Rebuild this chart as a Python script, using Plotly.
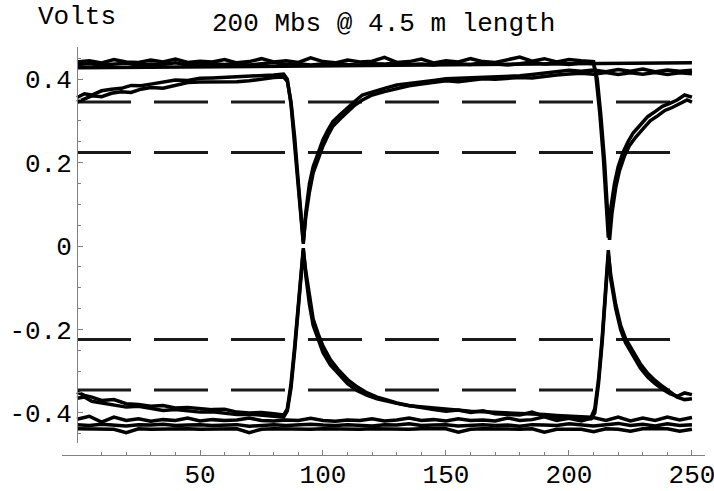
import plotly.graph_objects as go

# ---------------- data ----------------
grid5_0_210 = list(range(0, 211, 5))
grid5_0_250 = list(range(0, 251, 5))

hi_n1_x = grid5_0_210 + [211, 212.5, 214, 215, 216, 217, 218.5, 220, 222, 224, 226, 229, 232, 235, 238, 241, 244, 247, 250]
hi_n1_y = [0.441, 0.444, 0.439, 0.447, 0.441, 0.440, 0.446, 0.441, 0.448, 0.440,
           0.443, 0.441, 0.447, 0.439, 0.442, 0.449, 0.441, 0.444, 0.440, 0.451,
           0.442, 0.439, 0.446, 0.441, 0.443, 0.452, 0.440, 0.442, 0.448, 0.439,
           0.444, 0.441, 0.449, 0.442, 0.440, 0.446, 0.453, 0.443, 0.449, 0.441,
           0.447, 0.444, 0.442,
           0.405, 0.32, 0.21, 0.11, 0.02, 0.09, 0.15, 0.19, 0.225, 0.25, 0.27, 0.29,
           0.31, 0.322, 0.335, 0.342, 0.35, 0.362, 0.357]

hi_n2_x = grid5_0_210 + [211.5, 213, 214.5, 215.5, 216.5, 217.5, 219, 220.5, 222.5, 224.5, 227, 230, 233, 236, 239, 242, 245, 248, 250]
hi_n2_y = [0.435, 0.437, 0.434, 0.436, 0.438, 0.434, 0.436, 0.435, 0.439, 0.434,
           0.436, 0.437, 0.435, 0.438, 0.434, 0.436, 0.440, 0.435, 0.437, 0.434,
           0.436, 0.439, 0.435, 0.434, 0.437, 0.436, 0.440, 0.435, 0.436, 0.434,
           0.438, 0.436, 0.435, 0.439, 0.436, 0.434, 0.437, 0.441, 0.436, 0.438,
           0.435, 0.439, 0.437,
           0.40, 0.31, 0.20, 0.10, 0.015, 0.08, 0.14, 0.18, 0.215, 0.24, 0.26, 0.28,
           0.30, 0.312, 0.325, 0.332, 0.34, 0.35, 0.345]

hi_t_x = [0, 50, 100, 150, 200, 250]
hi_t_y = [0.427, 0.429, 0.431, 0.433, 0.436, 0.439]

r_x = [0, 3, 6, 10, 14, 18, 22, 26, 30, 35, 40, 45, 50, 55, 60, 65, 70, 75, 80, 84,
       85.5, 87, 88.5, 90, 91.5, 92,
       93, 94.5, 96, 98, 100, 102, 104, 107, 110, 113, 116, 120, 125, 130, 135, 140,
       145, 150, 155, 160, 165, 170, 175, 180, 185, 190, 195, 200, 205, 210, 215, 220,
       225, 230, 235, 240, 245, 250]
r1_y = [0.356, 0.365, 0.362, 0.372, 0.376, 0.378, 0.385, 0.384, 0.388, 0.392,
        0.398, 0.397, 0.402, 0.403, 0.404, 0.405, 0.407, 0.408, 0.410, 0.412,
        0.40, 0.34, 0.25, 0.14, 0.04, 0.005,
        0.08, 0.15, 0.19, 0.225, 0.255, 0.278, 0.298, 0.315, 0.332, 0.347,
        0.362, 0.37, 0.378, 0.386, 0.389, 0.394, 0.397, 0.401, 0.402, 0.404,
        0.405, 0.406, 0.405, 0.408, 0.411, 0.414, 0.418, 0.421, 0.419, 0.422,
        0.418, 0.423, 0.419, 0.424, 0.418, 0.422, 0.419, 0.421]
r2_y = [0.345, 0.352, 0.360, 0.358, 0.366, 0.370, 0.368, 0.376, 0.380, 0.378,
        0.386, 0.392, 0.393, 0.393, 0.394, 0.394, 0.396, 0.400, 0.404, 0.405,
        0.395, 0.345, 0.26, 0.15, 0.05, 0.01,
        0.07, 0.13, 0.175, 0.21, 0.24, 0.265, 0.287, 0.305, 0.322, 0.338,
        0.35, 0.362, 0.37, 0.378, 0.384, 0.388, 0.392, 0.396, 0.394, 0.398,
        0.401, 0.400, 0.402, 0.404, 0.403, 0.407, 0.410, 0.412, 0.414, 0.412,
        0.416, 0.411, 0.415, 0.412, 0.416, 0.411, 0.415, 0.413]

l_x = [0, 3, 6, 10, 15, 20, 25, 30, 35, 40, 45, 50, 55, 60, 65, 70, 75, 80, 84,
       85.5, 87, 88.5, 90, 91.5, 92,
       93, 94.5, 96, 98, 100, 103, 106, 110, 114, 118, 122, 126, 130, 135, 140, 145,
       150, 155, 160, 165, 170, 175, 180, 185, 190, 195, 200, 205, 209,
       210.5, 212, 213.5, 215, 216,
       217, 219, 221, 223, 226, 229, 232, 235, 238, 241, 244, 247, 250]
l1_y = [-0.350, -0.358, -0.362, -0.370, -0.368, -0.378, -0.380, -0.384, -0.382, -0.388,
        -0.387, -0.390, -0.392, -0.391, -0.398, -0.400, -0.399, -0.402, -0.405,
        -0.39, -0.33, -0.24, -0.13, -0.035, -0.005,
        -0.07, -0.14, -0.19, -0.225, -0.255, -0.285, -0.305, -0.33, -0.347, -0.358,
        -0.366, -0.372, -0.377, -0.383, -0.386, -0.389, -0.392, -0.394, -0.396, -0.397,
        -0.398, -0.399, -0.400, -0.401, -0.404, -0.406, -0.408, -0.409, -0.410,
        -0.39, -0.32, -0.22, -0.10, -0.01,
        -0.08, -0.15, -0.20, -0.232, -0.262, -0.292, -0.314, -0.33, -0.343, -0.354,
        -0.36, -0.352, -0.356]
l2_y = [-0.365, -0.362, -0.372, -0.376, -0.380, -0.386, -0.384, -0.390, -0.394, -0.392,
        -0.396, -0.398, -0.397, -0.400, -0.404, -0.403, -0.406, -0.408, -0.410,
        -0.395, -0.34, -0.25, -0.14, -0.045, -0.01,
        -0.06, -0.125, -0.175, -0.21, -0.24, -0.272, -0.295, -0.32, -0.338, -0.352,
        -0.362, -0.369, -0.376, -0.382, -0.388, -0.392, -0.396, -0.393, -0.399, -0.395,
        -0.402, -0.403, -0.405, -0.398, -0.408, -0.411, -0.412, -0.414, -0.414,
        -0.40, -0.33, -0.23, -0.11, -0.02,
        -0.07, -0.14, -0.19, -0.222, -0.252, -0.282, -0.305, -0.322, -0.336, -0.348,
        -0.362, -0.368, -0.366]

lf1_y = [-0.415, -0.408, -0.422, -0.410, -0.418, -0.414, -0.420, -0.416, -0.418, -0.412,
         -0.419, -0.416, -0.418, -0.417, -0.412, -0.418, -0.419, -0.417, -0.418, -0.413,
         -0.418, -0.420, -0.417, -0.418, -0.414, -0.419, -0.417, -0.412, -0.418, -0.416,
         -0.419, -0.414, -0.418, -0.417, -0.419, -0.412, -0.418, -0.416, -0.409, -0.418,
         -0.413, -0.419, -0.411, -0.418, -0.410, -0.419, -0.412, -0.418, -0.410, -0.417, -0.411]
lf2_y = [-0.428, -0.430, -0.427, -0.429, -0.431, -0.428, -0.429, -0.427, -0.430, -0.429,
         -0.428, -0.430, -0.429, -0.428, -0.432, -0.429, -0.428, -0.430, -0.429, -0.427,
         -0.429, -0.430, -0.428, -0.429, -0.431, -0.428, -0.429, -0.426, -0.430, -0.429,
         -0.428, -0.431, -0.429, -0.428, -0.430, -0.429, -0.432, -0.428, -0.429, -0.430,
         -0.426, -0.429, -0.431, -0.428, -0.425, -0.430, -0.427, -0.431, -0.426, -0.430, -0.428]
lf3_y = [-0.438, -0.439, -0.438, -0.439, -0.447, -0.438, -0.439, -0.438, -0.439, -0.438,
         -0.439, -0.438, -0.439, -0.438, -0.447, -0.439, -0.438, -0.439, -0.438, -0.439,
         -0.438, -0.439, -0.438, -0.439, -0.438, -0.439, -0.438, -0.439, -0.438, -0.439,
         -0.438, -0.446, -0.439, -0.438, -0.439, -0.438, -0.439, -0.438, -0.446, -0.439,
         -0.438, -0.439, -0.445, -0.438, -0.439, -0.444, -0.438, -0.439, -0.438, -0.444, -0.439]

ref_levels = [0.345, 0.224, -0.224, -0.345]
ref_x = [0, 250]

x_tickvals = [50, 100, 150, 200, 250]
x_ticktext = ["50", "100", "150", "200", "250"]
x_minor = [10, 20, 30, 40, 60, 70, 80, 90, 110, 120, 130, 140, 160, 170, 180, 190,
           210, 220, 230, 240]
y_tickvals = [-0.4, -0.2, 0, 0.2, 0.4]
y_ticktext = ["-0.4", "-0.2", "0", "0.2", "0.4"]
y_minor = [-0.45, -0.35, -0.3, -0.25, -0.15, -0.1, -0.05, 0.05, 0.1, 0.15, 0.25, 0.3, 0.35, 0.45]

title_text = "200 Mbs @ 4.5 m length"
ylabel_text = "Volts"

# ---------------- figure ----------------
FONT = "Liberation Mono"
FS = 26
fig = go.Figure()

for lv in ref_levels:
    fig.add_trace(go.Scatter(x=ref_x, y=[lv, lv], mode="lines",
                             line=dict(color="#1a1a1a", width=3, dash="54px,23px"),
                             hoverinfo="skip", showlegend=False))

traces = [
    (hi_t_x, hi_t_y), (hi_n2_x, hi_n2_y), (hi_n1_x, hi_n1_y),
    (r_x, r2_y), (r_x, r1_y),
    (l_x, l2_y), (l_x, l1_y),
    (grid5_0_250, lf3_y), (grid5_0_250, lf2_y), (grid5_0_250, lf1_y),
]
for xs, ys in traces:
    fig.add_trace(go.Scatter(x=xs, y=ys, mode="lines",
                             line=dict(color="black", width=3.5),
                             showlegend=False))

W, H = 714, 491
ml, mr, mt, mb = 62, 9, 47, 36
plot_h = H - mt - mb
x0, x1 = -6.1, 255.3
ydom0 = 12 / plot_h

fig.update_layout(
    width=W, height=H,
    margin=dict(l=ml, r=mr, t=mt, b=mb, pad=0, autoexpand=False),
    paper_bgcolor="white", plot_bgcolor="white",
    font=dict(family=FONT, size=FS, color="black"),
    xaxis=dict(range=[x0, x1], domain=[0, 1], anchor="free", position=0,
               automargin=False, ticklabeloverflow="allow",
               showgrid=False, zeroline=False, showline=True,
               linecolor="#808080", linewidth=1,
               tickmode="array", tickvals=x_tickvals, ticktext=x_ticktext,
               ticks="inside", ticklen=5, tickwidth=1, tickcolor="#808080",
               ticklabelstandoff=-4,
               minor=dict(tickmode="array", tickvals=x_minor, ticks="inside",
                          ticklen=3, tickcolor="#808080", showgrid=False),
               tickfont=dict(family=FONT, size=FS, color="black")),
    yaxis=dict(range=[-0.472, 0.477], domain=[ydom0, 1], anchor="free",
               position=(0 - x0) / (x1 - x0), automargin=False,
               ticklabeloverflow="allow",
               showgrid=False, zeroline=False, showline=True,
               linecolor="#808080", linewidth=1,
               tickmode="array", tickvals=y_tickvals, ticktext=y_ticktext,
               ticks="inside", ticklen=5, tickwidth=1, tickcolor="#808080",
               ticklabelstandoff=0,
               minor=dict(tickmode="array", tickvals=y_minor, ticks="inside",
                          ticklen=3, tickcolor="#808080", showgrid=False),
               tickfont=dict(family=FONT, size=FS, color="black")),
    annotations=[
        dict(text=title_text, xref="paper", yref="paper", x=0.5, y=(H - mb - 24) / plot_h,
             xanchor="center", yanchor="middle", showarrow=False,
             font=dict(family=FONT, size=FS, color="black")),
        dict(text=ylabel_text, xref="paper", yref="paper",
             x=(0 - x0) / (x1 - x0), y=(H - mb - 17) / plot_h,
             xanchor="center", yanchor="middle", showarrow=False,
             font=dict(family=FONT, size=FS, color="black")),
    ],
)

fig.write_html("out.html")
